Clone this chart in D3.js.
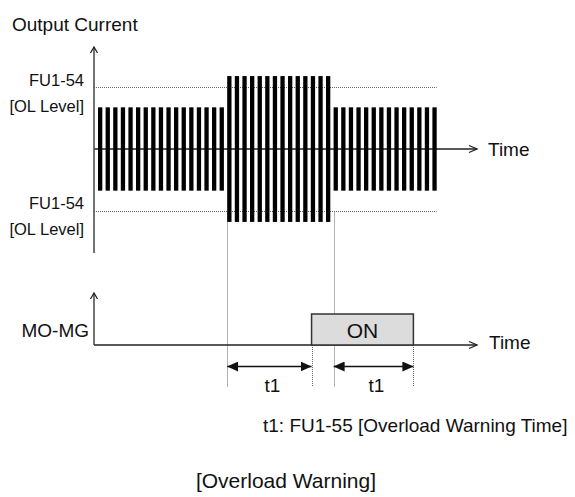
<!DOCTYPE html>
<html>
<head>
<meta charset="utf-8">
<script src="https://cdn.jsdelivr.net/npm/d3@7"></script>
<style>
  html, body { margin: 0; padding: 0; background: #fff; }
  svg { display: block; }
  text { font-family: "Liberation Sans", Arial, sans-serif; font-size: 19px; fill: #111; }
</style>
</head>
<body>
<svg id="chart" width="575" height="497"></svg>
<script>
// ---------- data ----------
// output current amplitude (% of rated) for each pulse, in time order
const barLevels = [
  100, 100, 100, 100, 100, 100, 100, 100, 100, 100, 100, 100, 100, 100, 100, 100, 100,
  175, 175, 175, 175, 175, 175, 175, 175, 175, 175, 175, 175, 175, 175,
  100, 100, 100, 100, 100, 100, 100, 100, 100, 100, 100, 100, 100, 100
];
const olLevels = [150, -150];           // FU1-54 [OL Level]
const overloadTimes = [17, 31];         // start / end of overload
const warningTimes = [28.1, 41.5];      // MO-MG ON / OFF
const t1Intervals = [[17, 28.1], [31, 41.5]];
const t1Labels = ["t1", "t1"];
const olLabels = ["FU1-54", "[OL Level]"];

// ---------- layout ----------
const svg = d3.select("#chart");
const x = d3.scaleLinear().domain([0, 45]).range([98, 440]);
const y = d3.scaleLinear().domain([-180, 180]).range([224, 74]);
const ys = d3.scaleLinear().domain([0, 1]).range([345, 314]);
const barW = 4.3;
const axisX = 94;
const axisEnd = 477;
const dimY = 366.5;
const dimBottom = 387;
const ink = "#222";
const px = v => Math.round(v) + 0.5;

const defs = svg.append("defs");
defs.append("marker").attr("id", "fa").attr("viewBox", "0 0 11 10")
  .attr("refX", 11).attr("refY", 5).attr("markerWidth", 11).attr("markerHeight", 10)
  .attr("markerUnits", "userSpaceOnUse").attr("orient", "auto-start-reverse")
  .append("path").attr("d", "M0,0 L11,5 L0,10 Z").attr("fill", "#111");

function chevronUp(g, cx, cy) {
  g.append("path").attr("d", `M${cx-3.5},${cy+6} L${cx},${cy} L${cx+3.5},${cy+6}`)
    .attr("fill", "none").attr("stroke", ink).attr("stroke-width", 1.3);
}
function chevronRight(g, cx, cy) {
  g.append("path").attr("d", `M${cx-8},${cy-3.5} L${cx},${cy} L${cx-8},${cy+3.5}`)
    .attr("fill", "none").attr("stroke", ink).attr("stroke-width", 1.3);
}

// ---------- top panel: output current ----------
const gTop = svg.append("g");

gTop.selectAll("line.ol").data(olLevels).join("line").attr("class", "ol")
  .attr("x1", axisX).attr("x2", x(barLevels.length - 1) + barW)
  .attr("y1", d => px(y(d))).attr("y2", d => px(y(d)))
  .attr("stroke", "#666").attr("stroke-width", 1).attr("stroke-dasharray", "1,1");

gTop.selectAll("line.ov").data(overloadTimes).join("line").attr("class", "ov")
  .attr("x1", d => px(x(d))).attr("x2", d => px(x(d)))
  .attr("y1", y(olLevels[1])).attr("y2", dimBottom)
  .attr("stroke", "#666").attr("stroke-width", 1).attr("stroke-dasharray", "1,1");

gTop.append("line").attr("x1", axisX).attr("x2", axisEnd).attr("y1", y(0)).attr("y2", y(0))
  .attr("stroke", ink).attr("stroke-width", 1.5);
chevronRight(gTop, axisEnd, y(0));

gTop.selectAll("rect.bar").data(barLevels).join("rect").attr("class", "bar")
  .attr("x", (d, i) => x(i)).attr("width", barW)
  .attr("y", d => y(d)).attr("height", d => y(-d) - y(d))
  .attr("fill", "#000");

gTop.append("line").attr("x1", axisX).attr("x2", axisX).attr("y1", 253).attr("y2", 47)
  .attr("stroke", "#444").attr("stroke-width", 1.5);
chevronUp(gTop, axisX, 47);

gTop.append("text").attr("x", 12).attr("y", 31).text("Output Current");
gTop.append("text").attr("x", 488).attr("y", 156).text("Time");
const olLabelPos = [[86, 112], [209, 235]];
olLabelPos.forEach(p => {
  gTop.append("text").attr("x", 84).attr("y", p[0]).attr("text-anchor", "end")
    .style("font-size", "16.5px").text(olLabels[0]);
  gTop.append("text").attr("x", 84).attr("y", p[1]).attr("text-anchor", "end")
    .style("font-size", "16.5px").text(olLabels[1]);
});

// ---------- bottom panel: MO-MG ----------
const gBot = svg.append("g");

gBot.selectAll("line.wv").data(warningTimes).join("line").attr("class", "wv")
  .attr("x1", d => px(x(d))).attr("x2", d => px(x(d)))
  .attr("y1", ys(0)).attr("y2", dimBottom)
  .attr("stroke", "#666").attr("stroke-width", 1).attr("stroke-dasharray", "1,1");

gBot.append("line").attr("x1", axisX).attr("x2", axisEnd).attr("y1", ys(0)).attr("y2", ys(0))
  .attr("stroke", ink).attr("stroke-width", 1.5);
chevronRight(gBot, axisEnd, ys(0));
gBot.append("line").attr("x1", axisX).attr("x2", axisX).attr("y1", ys(0)).attr("y2", 293)
  .attr("stroke", "#444").attr("stroke-width", 1.5);
chevronUp(gBot, axisX, 293);

gBot.append("rect").attr("x", x(warningTimes[0])).attr("y", ys(1))
  .attr("width", x(warningTimes[1]) - x(warningTimes[0])).attr("height", ys(0) - ys(1))
  .attr("fill", "#dcdcdc").attr("stroke", "#333").attr("stroke-width", 1.5);
gBot.append("text").attr("x", (x(warningTimes[0]) + x(warningTimes[1])) / 2).attr("y", 338)
  .attr("text-anchor", "middle").style("font-size", "21px").text("ON");

gBot.append("text").attr("x", 489).attr("y", 349).text("Time");
gBot.append("text").attr("x", 89).attr("y", 337).attr("text-anchor", "end").text("MO-MG");

gBot.selectAll("line.dim").data(t1Intervals).join("line").attr("class", "dim")
  .attr("x1", d => x(d[0])).attr("x2", d => x(d[1]))
  .attr("y1", dimY).attr("y2", dimY)
  .attr("stroke", "#111").attr("stroke-width", 1.5)
  .attr("marker-start", "url(#fa)").attr("marker-end", "url(#fa)");
gBot.selectAll("text.t1").data(t1Intervals).join("text").attr("class", "t1")
  .attr("x", d => (x(d[0]) + x(d[1])) / 2 + 3).attr("y", 392)
  .attr("text-anchor", "middle").text((d, i) => t1Labels[i]);

svg.append("text").attr("x", 263).attr("y", 432).text("t1: FU1-55 [Overload Warning Time]");
svg.append("text").attr("x", 286).attr("y", 488).attr("text-anchor", "middle")
  .style("font-size", "21px").text("[Overload Warning]");
</script>
</body>
</html>
